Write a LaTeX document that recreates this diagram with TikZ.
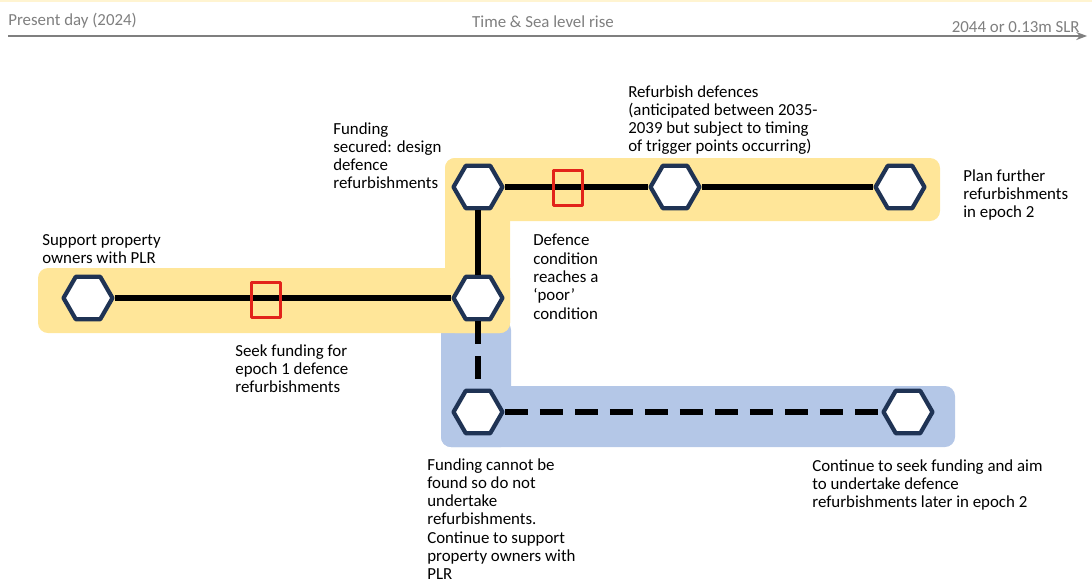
\documentclass[tikz,border=0pt]{standalone}
\usepackage{fontspec}
\setmainfont{Carlito}
\usetikzlibrary{shapes.geometric,arrows.meta}
\definecolor{bandyellow}{HTML}{FFE699}
\definecolor{bandblue}{HTML}{B4C7E7}
\definecolor{hexnavy}{HTML}{1F3354}
\definecolor{boxred}{HTML}{E2231A}
\definecolor{axisgray}{HTML}{7F7F7F}

\begin{document}
\begin{tikzpicture}[x=0.02cm, y=-0.02cm, >=Stealth, line join=round,
	font=\fontsize{9.6}{10.4}\selectfont,
	hexa/.style={regular polygon, regular polygon sides=6, minimum size=0.98cm,
		inner sep=0pt, draw=hexnavy, line width=2.4pt, fill=white},
	redbox/.style={draw=boxred, line width=1.4pt, minimum width=0.58cm,
		minimum height=0.7cm, inner sep=0pt},
	trunk/.style={line width=3.9pt},
	branch/.style={line width=3.9pt, dash pattern=on 0.46cm off 0.24cm},
	lbl/.style={anchor=north west, align=left, inner sep=0pt},
	axislbl/.style={text=axisgray, inner sep=0pt}]
	\useasboundingbox (0,0) rectangle (1092,582);
	\fill[bandyellow!45] (0,0) rectangle (1092,2);
	% time axis
	\coordinate (t0) at (8,36);
	\coordinate (t1) at (1087,36);
	\draw[axisgray, line width=0.7pt, ->] (t0) -- (t1);
	\node[axislbl, anchor=west] (today) at (8,21) {Present day (2024)};
	\node[axislbl] (axis) at (543,22) {Time \& Sea level rise};
	\node[axislbl, anchor=east] (end) at (1080,27) {2044 or 0.13m SLR};
	% bands
	\fill[bandblue, rounded corners=0.2cm] (441,320) rectangle (511,447);
	\fill[bandblue, rounded corners=0.2cm] (441,386) rectangle (955,447);
	\fill[bandyellow, rounded corners=0.2cm] (38,268) rectangle (510,333);
	\fill[bandyellow, rounded corners=0.2cm] (445,158) rectangle (510,333);
	\fill[bandyellow, rounded corners=0.2cm] (445,158) rectangle (940,221);
	% hexagons
	\node[hexa] (start) at (88,298) {};
	\node[hexa] (junction) at (478,298) {};
	\node[hexa] (secured) at (478,187) {};
	\node[hexa] (refurb) at (675,187) {};
	\node[hexa] (plan) at (900,187) {};
	\node[hexa] (nofund) at (478,412) {};
	\node[hexa] (seek) at (908,412) {};
	% routes
	\draw[trunk] (start) -- (junction);
	\draw[trunk] (junction) -- (secured);
	\draw[trunk] (secured) -- (refurb);
	\draw[trunk] (refurb) -- (plan);
	\draw[branch] (junction) -- (nofund);
	\draw[branch] (nofund) -- (seek);
	% trigger points
	\node[redbox] (seekbox) at (266,300) {};
	\node[redbox] (poorbox) at (568,188) {};
	% labels
	\node[lbl] (startlbl) at (42,234) {Support property\\owners with PLR};
	\node[lbl] (seeklbl) at (235,344) {Seek funding for\\epoch 1 defence\\refurbishments};
	\node[lbl] (securedlbl) at (333,122) {Funding\\secured: design\\defence\\refurbishments};
	\node[lbl] (refurblbl) at (628,85) {Refurbish defences\\(anticipated between 2035-\\2039 but subject to timing\\of trigger points occurring)};
	\node[lbl] (planlbl) at (963,169) {Plan further\\refurbishments\\in epoch 2};
	\node[lbl] (poorlbl) at (533,234) {Defence\\condition\\reaches a\\‘poor’\\condition};
	\node[lbl] (nofundlbl) at (427,458) {Funding cannot be\\found so do not\\undertake\\refurbishments.\\Continue to support\\property owners with\\PLR};
	\node[lbl] (seekonlbl) at (812,459) {Continue to seek funding and aim\\to undertake defence\\refurbishments later in epoch 2};
\end{tikzpicture}
\end{document}
